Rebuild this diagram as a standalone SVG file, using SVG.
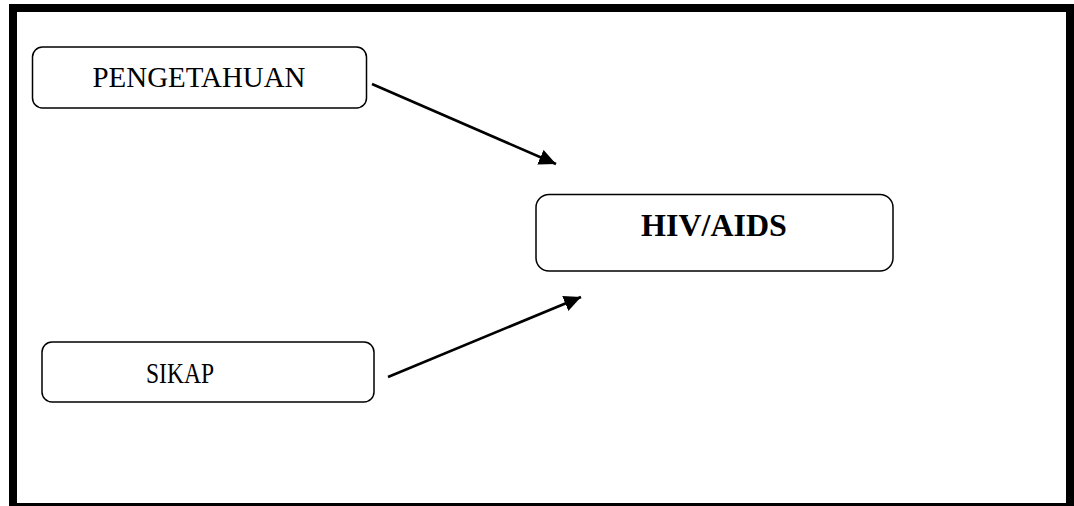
<svg xmlns="http://www.w3.org/2000/svg" width="1074" height="506" viewBox="0 0 1074 506">
<style>
.box{fill:#fff;stroke:#000;stroke-width:1.5}
.lbl{font-family:"Liberation Serif","Times New Roman",serif;font-size:29px;fill:#000;text-anchor:middle}
.bold{font-weight:bold;font-size:32px}
.conn{stroke:#000;stroke-width:2.6;fill:none}
</style>
<defs>
<marker id="ah" markerUnits="userSpaceOnUse" markerWidth="20" markerHeight="18" refX="17" refY="8" orient="auto">
<path d="M0,0 L17,8 L0,16 Z" fill="#000"/>
</marker>
</defs>
<rect x="0" y="0" width="1074" height="506" fill="#fff"/>
<rect id="frame" x="13" y="8" width="1057" height="499" fill="none" stroke="#000" stroke-width="8"/>
<g id="node-pengetahuan">
<rect class="box" x="32.5" y="47" width="334" height="61" rx="10"/>
<text class="lbl" x="199" y="87" textLength="213" lengthAdjust="spacingAndGlyphs">PENGETAHUAN</text>
</g>
<g id="node-hivaids">
<rect class="box" x="536" y="194.5" width="357" height="76.5" rx="13"/>
<text class="lbl bold" x="714" y="236">HIV/AIDS</text>
</g>
<g id="node-sikap">
<rect class="box" x="42" y="342" width="332" height="60" rx="10"/>
<text class="lbl" x="180" y="383" textLength="68" lengthAdjust="spacingAndGlyphs">SIKAP</text>
</g>
<g id="connectors">
<line class="conn" x1="372" y1="84" x2="556" y2="164" marker-end="url(#ah)"/>
<line class="conn" x1="388" y1="377" x2="581" y2="297" marker-end="url(#ah)"/>
</g>
</svg>
